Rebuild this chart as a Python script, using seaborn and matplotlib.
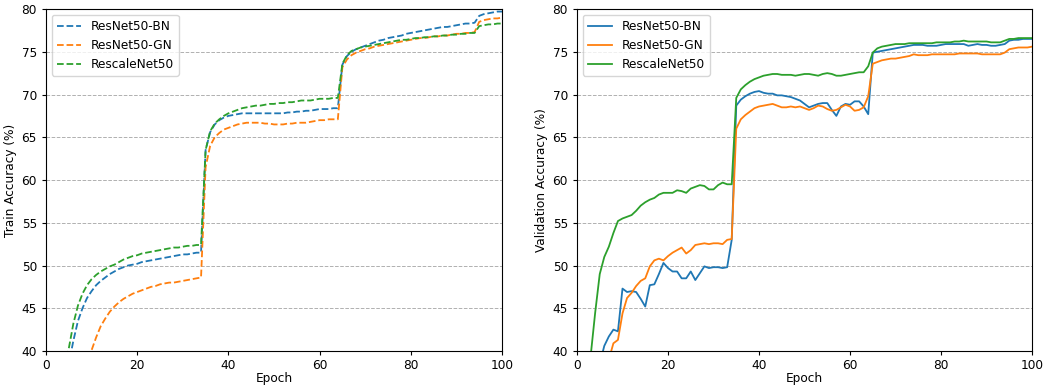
import matplotlib
matplotlib.use("Agg")
import matplotlib.pyplot as plt
import seaborn as sns
import pandas as pd

epochs = list(range(1, 101))
models = ["ResNet50-BN", "ResNet50-GN", "RescaleNet50"]

# train accuracy (%) per epoch
train_bn = [20, 26, 31, 35, 38.5, 41.2, 43.5, 45.0, 46.2, 47.0,
            47.7, 48.2, 48.6, 49.0, 49.3, 49.6, 49.8, 50.0, 50.1, 50.2,
            50.4, 50.5, 50.6, 50.7, 50.8, 50.9, 51.0, 51.1, 51.2, 51.3,
            51.3, 51.4, 51.5, 51.5, 63.5, 65.6, 66.5, 67.0, 67.3, 67.5,
            67.6, 67.7, 67.8, 67.8, 67.8, 67.8, 67.8, 67.8, 67.8, 67.8,
            67.8, 67.8, 67.9, 67.9, 68.0, 68.0, 68.1, 68.1, 68.2, 68.3,
            68.3, 68.3, 68.4, 68.4, 73.5, 74.5, 75.0, 75.3, 75.5, 75.7,
            75.9, 76.1, 76.3, 76.4, 76.6, 76.7, 76.8, 76.9, 77.1, 77.2,
            77.3, 77.4, 77.5, 77.6, 77.7, 77.8, 77.9, 77.9, 78.0, 78.1,
            78.2, 78.3, 78.3, 78.4, 79.2, 79.4, 79.5, 79.6, 79.7, 79.7]
train_gn = [15, 20, 24, 27.5, 30.5, 33, 35.3, 37.2, 38.8, 40.1,
            41.6, 42.9, 43.8, 44.6, 45.2, 45.7, 46.1, 46.4, 46.7, 46.9,
            47.1, 47.3, 47.5, 47.6, 47.8, 47.9, 48.0, 48.0, 48.1, 48.2,
            48.3, 48.4, 48.5, 48.6, 61.5, 64.0, 65.0, 65.5, 65.9, 66.1,
            66.3, 66.5, 66.6, 66.7, 66.7, 66.7, 66.7, 66.6, 66.6, 66.5,
            66.5, 66.5, 66.6, 66.6, 66.7, 66.7, 66.7, 66.8, 66.9, 67.0,
            67.0, 67.1, 67.1, 67.1, 73.2, 74.1, 74.6, 74.9, 75.1, 75.3,
            75.4, 75.6, 75.7, 75.8, 75.9, 76.0, 76.1, 76.2, 76.3, 76.4,
            76.5, 76.6, 76.6, 76.7, 76.8, 76.8, 76.9, 76.9, 77.0, 77.1,
            77.1, 77.2, 77.2, 77.3, 78.5, 78.7, 78.8, 78.9, 78.9, 79.0]
train_rescale = [22, 28, 33, 37, 40.3, 43.2, 45.3, 46.7, 47.7, 48.4,
                 48.9, 49.3, 49.6, 49.9, 50.1, 50.4, 50.7, 50.9, 51.1, 51.2,
                 51.4, 51.5, 51.6, 51.7, 51.8, 51.9, 52.0, 52.1, 52.1, 52.2,
                 52.3, 52.3, 52.4, 52.4, 63.5, 65.7, 66.6, 67.1, 67.5, 67.8,
                 68.0, 68.2, 68.4, 68.5, 68.6, 68.7, 68.7, 68.8, 68.9, 68.9,
                 69.0, 69.0, 69.1, 69.1, 69.2, 69.3, 69.3, 69.3, 69.4, 69.5,
                 69.5, 69.5, 69.6, 69.6, 73.6, 74.6, 75.1, 75.3, 75.5, 75.6,
                 75.7, 75.8, 75.9, 76.0, 76.1, 76.2, 76.3, 76.4, 76.4, 76.5,
                 76.6, 76.6, 76.7, 76.7, 76.8, 76.8, 76.9, 76.9, 77.0, 77.0,
                 77.1, 77.1, 77.2, 77.2, 78.0, 78.1, 78.2, 78.2, 78.3, 78.3]

# validation accuracy (%) per epoch
val_bn = [20, 28, 33, 36, 38.5, 40.6, 41.7, 42.5, 42.3, 47.3,
          46.9, 47.0, 46.9, 46.1, 45.2, 47.7, 47.8, 49.0, 50.3, 49.7,
          49.3, 49.3, 48.5, 48.5, 49.3, 48.3, 49.1, 49.9, 49.7, 49.8,
          49.8, 49.7, 49.8, 53.0, 68.7, 69.4, 69.8, 70.1, 70.3, 70.4,
          70.2, 70.1, 70.1, 69.9, 69.9, 69.8, 69.7, 69.5, 69.3, 68.9,
          68.5, 68.7, 68.9, 69.0, 69.0, 68.2, 67.5, 68.6, 68.9, 68.8,
          69.2, 69.2, 68.6, 67.7, 74.9, 75.0, 75.1, 75.2, 75.3, 75.4,
          75.5, 75.6, 75.7, 75.8, 75.8, 75.8, 75.7, 75.7, 75.7, 75.8,
          75.9, 75.9, 75.9, 75.9, 75.9, 75.7, 75.8, 75.9, 75.8, 75.8,
          75.7, 75.7, 75.8, 75.9, 76.3, 76.4, 76.4, 76.5, 76.5, 76.5]
val_gn = [15, 22, 28, 32, 35, 37, 39, 40.9, 41.3, 44.4,
          46.2, 46.8, 47.6, 48.2, 48.5, 49.9, 50.6, 50.8, 50.6, 51.1,
          51.5, 51.8, 52.1, 51.4, 51.8, 52.4, 52.5, 52.6, 52.5, 52.6,
          52.6, 52.5, 53.0, 53.1, 66.0, 67.1, 67.6, 68.0, 68.4, 68.6,
          68.7, 68.8, 68.9, 68.7, 68.5, 68.5, 68.6, 68.5, 68.6, 68.4,
          68.2, 68.4, 68.7, 68.6, 68.3, 68.1, 68.2, 68.5, 68.8, 68.6,
          68.1, 68.2, 68.5, 69.8, 73.6, 73.8, 74.0, 74.1, 74.2, 74.2,
          74.3, 74.4, 74.5, 74.7, 74.6, 74.6, 74.6, 74.7, 74.7, 74.7,
          74.7, 74.7, 74.7, 74.8, 74.8, 74.8, 74.8, 74.8, 74.7, 74.7,
          74.7, 74.7, 74.7, 74.9, 75.3, 75.4, 75.5, 75.5, 75.5, 75.6]
val_rescale = [25, 31, 39.4, 44.5, 49, 51, 52.2, 53.8, 55.2, 55.5,
               55.7, 55.9, 56.4, 57.0, 57.4, 57.7, 57.9, 58.3, 58.5, 58.5,
               58.5, 58.8, 58.7, 58.5, 59.0, 59.2, 59.4, 59.3, 58.9, 58.9,
               59.4, 59.7, 59.5, 59.5, 69.6, 70.6, 71.1, 71.5, 71.8, 72.0,
               72.2, 72.3, 72.4, 72.4, 72.3, 72.3, 72.3, 72.2, 72.3, 72.4,
               72.4, 72.3, 72.2, 72.4, 72.5, 72.4, 72.2, 72.2, 72.3, 72.4,
               72.5, 72.6, 72.6, 73.3, 74.9, 75.4, 75.6, 75.7, 75.8, 75.9,
               75.9, 75.9, 76.0, 76.0, 76.0, 76.0, 76.0, 76.0, 76.1, 76.1,
               76.1, 76.1, 76.2, 76.2, 76.3, 76.2, 76.2, 76.2, 76.2, 76.2,
               76.1, 76.1, 76.1, 76.3, 76.5, 76.5, 76.6, 76.6, 76.6, 76.6]

train = {"ResNet50-BN": train_bn, "ResNet50-GN": train_gn, "RescaleNet50": train_rescale}
val = {"ResNet50-BN": val_bn, "ResNet50-GN": val_gn, "RescaleNet50": val_rescale}
colors = sns.color_palette("tab10", 3)

plt.rcParams["font.size"] = 8.7
plt.rcParams["xtick.major.size"] = 3
plt.rcParams["ytick.major.size"] = 3
plt.rcParams["xtick.major.pad"] = 3

fig = plt.figure(figsize=(10.43, 3.85), dpi=100)
ax1 = fig.add_axes([0.0441, 0.0883, 0.4372, 0.8883])
ax2 = fig.add_axes([0.5532, 0.0883, 0.4363, 0.8883])

for ax, data, ls, ylabel in [(ax1, train, "--", "Train Accuracy (%)"),
                             (ax2, val, "-", "Validation Accuracy (%)")]:
    for name, c in zip(models, colors):
        df = pd.DataFrame({"epoch": epochs, "acc": data[name]})
        sns.lineplot(data=df, x="epoch", y="acc", ax=ax, color=c,
                     linestyle=ls, linewidth=1.3, label=name)
    ax.set_xlim(0, 100)
    ax.set_ylim(40, 80)
    ax.set_xticks([0, 20, 40, 60, 80, 100])
    ax.set_yticks([40, 45, 50, 55, 60, 65, 70, 75, 80])
    ax.grid(axis="y", linestyle="--", color="#b0b0b0", linewidth=0.7)
    ax.set_axisbelow(True)
    ax.set_xlabel("Epoch", labelpad=0)
    ax.set_ylabel(ylabel, labelpad=3)
    ax.legend(loc="upper left")

fig.savefig("out.png", dpi=100)
